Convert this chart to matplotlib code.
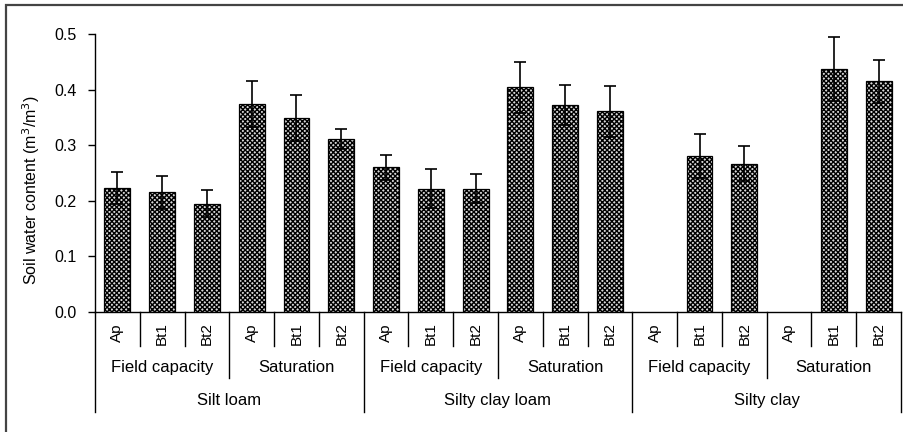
import numpy as np
import matplotlib
matplotlib.use("Agg")
import matplotlib.pyplot as plt
from matplotlib.patches import Rectangle

plt.rcParams['font.family'] = ['Liberation Sans', 'DejaVu Sans']
plt.rcParams['hatch.linewidth'] = 1.0

soils = ['Silt loam', 'Silty clay loam', 'Silty clay']
states = ['Field capacity', 'Saturation']
horizons = ['Ap', 'Bt1', 'Bt2']

# mean soil water content (m3/m3), order: soil -> state -> horizon
theta = [0.223, 0.215, 0.195, 0.374, 0.349, 0.312,
         0.260, 0.222, 0.222, 0.404, 0.372, 0.361,
         np.nan, 0.281, 0.267, np.nan, 0.437, 0.415]
theta_sd = [0.028, 0.029, 0.025, 0.041, 0.042, 0.018,
            0.022, 0.035, 0.026, 0.046, 0.036, 0.046,
            np.nan, 0.040, 0.032, np.nan, 0.058, 0.039]

n = len(theta)
x = np.arange(n)

fig = plt.figure(figsize=(9.04, 4.32), dpi=100)
# frame round the chart (cut at right and bottom)
fig.patches.append(Rectangle((6/904, -0.1), 1.2, 1.1 - 5/432, transform=fig.transFigure,
                             fill=False, edgecolor='#444444', linewidth=1.6))

ax = fig.add_axes([95/904, 120/432, 806/904, 278/432])

ax.bar(x, theta, width=0.58, color='#d8d8d8', edgecolor='black', hatch='xxxxxxx', linewidth=0.9)
ax.errorbar(x, theta, yerr=theta_sd, fmt='none', ecolor='black', elinewidth=1.2,
            capsize=4, capthick=1.2)

ax.set_xlim(-0.5, n - 0.5)
ax.set_ylim(0, 0.5)
ax.set_yticks(np.arange(0, 0.51, 0.1))
ax.set_yticklabels(['%.1f' % v for v in np.arange(0, 0.51, 0.1)], fontsize=11.5)
ax.tick_params(axis='y', direction='out', length=5, width=1, pad=8)
ax.set_xticks([])
for s in ['top', 'right']:
    ax.spines[s].set_visible(False)
ax.spines['left'].set_linewidth(1)
ax.spines['bottom'].set_linewidth(1)

ax.set_ylabel('Soil water content (m$^3$/m$^3$)', fontsize=11.5)
ax.yaxis.set_label_coords(-0.066, 0.44)

# three-level category axis below the plot
tr = ax.get_xaxis_transform()
for b in range(n + 1):
    if b % 6 == 0:
        y_end = -0.36
    elif b % 3 == 0:
        y_end = -0.237
    else:
        y_end = -0.122
    ax.plot([b - 0.5, b - 0.5], [0, y_end], color='black', lw=1, transform=tr, clip_on=False)

for i in range(n):
    ax.text(i, -0.076, horizons[i % 3], rotation=90, ha='center', va='center',
            fontsize=11, transform=tr)
for j in range(n // 3):
    ax.text(3 * j + 1, -0.198, states[j % 2], ha='center', va='center',
            fontsize=12, transform=tr)
for k, s in enumerate(soils):
    ax.text(6 * k + 2.5, -0.317, s, ha='center', va='center', fontsize=12, transform=tr)

fig.savefig('out.png', dpi=100)
